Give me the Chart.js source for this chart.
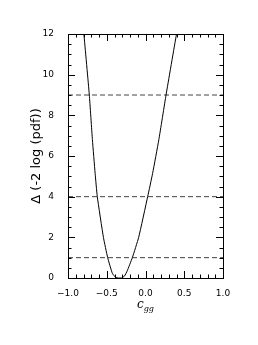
<!DOCTYPE html>
<html>
<head>
<meta charset="utf-8">
<script src="https://cdn.jsdelivr.net/npm/chart.js@4"></script>
<style>
  html, body { margin: 0; padding: 0; background: #fff; }
  #wrap { width: 258px; height: 345px; position: relative; }
</style>
</head>
<body>
<div id="wrap"><canvas id="chart"></canvas></div>
<script>
// profile curve
const cgg = [-0.795, -0.725, -0.685, -0.65, -0.622, -0.543, -0.488, -0.428, -0.39, -0.35, -0.31, -0.27, -0.236, -0.170, -0.088, 0.028, 0.092, 0.172, 0.265, 0.40]
const deltaChi2 = [12, 9, 6.8, 5.15, 4, 2, 1, 0.23, 0.05, 0, 0, 0.1, 0.35, 1, 2, 4, 5.15, 6.8, 9, 12]

// dashed reference levels
const refLevels = [1, 4, 9]

// tick labels
const xTickVals = [-1, -0.5, 0, 0.5, 1]
const yTickVals = [0, 2, 4, 6, 8, 10, 12]

const tickFont = { family: 'DejaVu Sans', size: 9 }

const datasets = [{
    data: cgg.map((x, i) => ({ x: x, y: deltaChi2[i] })),
    borderColor: '#000',
    borderWidth: 1,
    pointRadius: 0,
    tension: 0.15
}]
refLevels.forEach((lv) => {
    datasets.push({
        data: [{ x: -1, y: lv }, { x: 1, y: lv }],
        borderColor: '#444',
        borderWidth: 1,
        borderDash: [5, 3],
        pointRadius: 0
    })
})

// inward ticks on all four sides, frame, and the x title with subscript
const frameTicks = {
    id: 'frameTicks',
    afterDraw(chart) {
        const { ctx, chartArea: a, scales: { x, y } } = chart
        ctx.save()
        ctx.strokeStyle = '#000'
        ctx.lineWidth = 1
        ctx.beginPath()
        for (let i = -10; i <= 10; i++) {
            const v = i / 10
            const px = Math.round(x.getPixelForValue(v)) + 0.5
            const len = (i % 5 === 0) ? 7 : 3.5
            ctx.moveTo(px, a.bottom); ctx.lineTo(px, a.bottom - len)
            ctx.moveTo(px, a.top); ctx.lineTo(px, a.top + len)
        }
        for (let i = 0; i <= 24; i++) {
            const v = i / 2
            const py = Math.round(y.getPixelForValue(v)) + 0.5
            const len = (i % 4 === 0) ? 7 : 3.5
            ctx.moveTo(a.left, py); ctx.lineTo(a.left + len, py)
            ctx.moveTo(a.right, py); ctx.lineTo(a.right - len, py)
        }
        ctx.stroke()
        ctx.strokeRect(Math.round(a.left) + 0.5, Math.round(a.top) + 0.5,
            Math.round(a.right - a.left), Math.round(a.bottom - a.top))

        // x axis title: c_gg
        const cx = (a.left + a.right) / 2
        ctx.fillStyle = '#000'
        ctx.textBaseline = 'alphabetic'
        ctx.font = 'italic 12px "DejaVu Serif"'
        const wc = ctx.measureText('c').width
        ctx.font = 'italic 8px "DejaVu Serif"'
        const wg = ctx.measureText('gg').width
        const x0 = cx - (wc + wg) / 2
        ctx.font = 'italic 12px "DejaVu Serif"'
        ctx.fillText('c', x0, 308)
        ctx.font = 'italic 8px "DejaVu Serif"'
        ctx.fillText('gg', x0 + wc, 311)
        ctx.restore()
    }
}

new Chart(document.getElementById('chart'), {
    type: 'line',
    data: { datasets: datasets },
    options: {
        responsive: true,
        maintainAspectRatio: false,
        animation: false,
        layout: { padding: { top: 34, right: 35, left: 0, bottom: 0 } },
        plugins: { legend: { display: false }, tooltip: { enabled: false } },
        scales: {
            x: {
                type: 'linear',
                min: -1,
                max: 1,
                grid: { display: false },
                border: { display: false },
                afterBuildTicks: (s) => { s.ticks = xTickVals.map(v => ({ value: v })) },
                afterFit: (s) => { s.height = 67 },
                ticks: {
                    font: tickFont,
                    color: '#000',
                    padding: 2,
                    maxRotation: 0,
                    callback: (v) => (v < 0 ? '\u2212' : '') + Math.abs(v).toFixed(1)
                }
            },
            y: {
                type: 'linear',
                min: 0,
                max: 12,
                grid: { display: false },
                border: { display: false },
                afterBuildTicks: (s) => { s.ticks = yTickVals.map(v => ({ value: v })) },
                afterFit: (s) => { s.width = 68 },
                ticks: { font: tickFont, color: '#000', padding: 6 },
                title: {
                    display: true,
                    text: '\u0394 (-2 log (pdf))',
                    color: '#000',
                    font: { family: 'DejaVu Sans', size: 13 },
                    padding: { top: 29, bottom: 0 }
                }
            }
        }
    },
    plugins: [frameTicks]
})
</script>
</body>
</html>
